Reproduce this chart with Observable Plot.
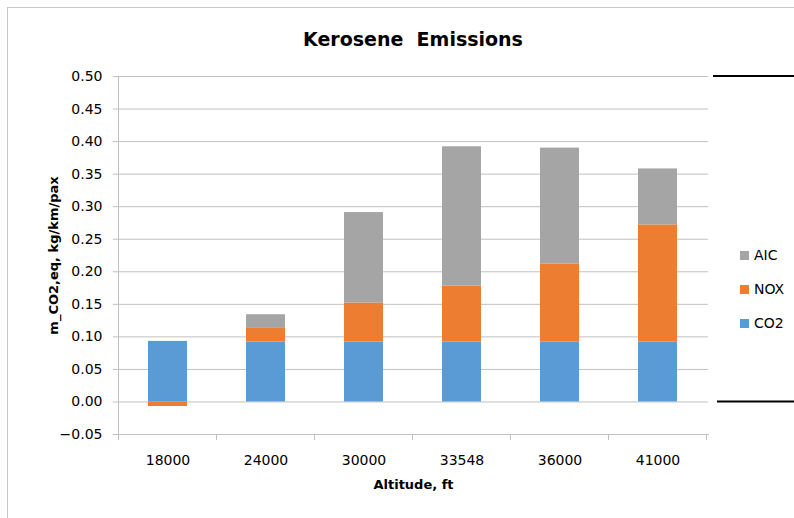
<!DOCTYPE html>
<html><head><meta charset="utf-8">
<script src="https://cdn.jsdelivr.net/npm/d3@7"></script>
<script src="https://cdn.jsdelivr.net/npm/@observablehq/plot@0.6"></script>
<style>
body{margin:0;background:#fff;}
#wrap{position:relative;width:794px;height:518px;overflow:hidden;font-family:"DejaVu Sans",sans-serif;background:#fff;}
#border{position:absolute;left:7px;top:7px;width:900px;height:600px;border:1px solid #c8c8c8;box-sizing:border-box;}
#chart{position:absolute;left:0;top:0;}
#title{position:absolute;left:118px;width:590px;top:28px;text-align:center;font-weight:bold;font-size:19px;color:#000;white-space:pre;}
.leg{position:absolute;left:740px;font-size:14px;color:#000;display:flex;align-items:center;height:16px;}
.leg span.sw{display:inline-block;width:9px;height:9px;margin-right:5px;}
svg text{font-family:"DejaVu Sans",sans-serif;}
svg g[aria-label="y-axis label"] text, svg g[aria-label="x-axis label"] text{font-weight:bold;font-size:13px;}
</style>
</head><body>
<div id="wrap"><div id="border"></div><div id="chart"></div><div id="title">Kerosene  Emissions</div></div>
<script>
const altitudes = ["18000","24000","30000","33548","36000","41000"];
const series = ["CO2","NOX","AIC"];
const co2 = [0.093,0.092,0.092,0.092,0.092,0.092];
const nox = [-0.007,0.021,0.060,0.086,0.120,0.180];
const aic = [0.000,0.021,0.139,0.214,0.178,0.086];
const colors = ["#5b9bd5","#ed7d31","#a5a5a5"];
const yTicks = [-0.05,0,0.05,0.10,0.15,0.20,0.25,0.30,0.35,0.40,0.45,0.50];
const legendOrder = ["AIC","NOX","CO2"];

const valuesBySeries = {CO2: co2, NOX: nox, AIC: aic};
const data = [];
series.forEach(s => altitudes.forEach((a,i) => data.push({alt:a, series:s, value:valuesBySeries[s][i]})));

const grid = "#c0c0c0";
const plot = Plot.plot({
  width: 794, height: 518,
  marginLeft: 118, marginRight: 86, marginTop: 76, marginBottom: 84,
  style: {fontSize: "14px", background: "transparent", color: "#000"},
  x: {domain: altitudes, paddingInner: 0.6, paddingOuter: 0.3, label: null},
  y: {domain: [-0.05, 0.5]},
  color: {domain: series, range: colors},
  marks: [
    Plot.gridY(yTicks, {stroke: grid, strokeOpacity: 1}),
    Plot.barY(data, Plot.stackY({x: "alt", y: "value", fill: "series", order: series})),
    Plot.axisY(yTicks, {tickFormat: d3.format(".2f"), tickSize: 5, tickPadding: 11, stroke: grid,
      label: "m_CO2,eq, kg/km/pax", labelAnchor: "center", labelOffset: 70, labelArrow: false}),
    Plot.axisX({tickSize: 0, tickPadding: 21, label: "Altitude, ft", labelAnchor: "center", labelOffset: 54, labelArrow: false}),
    Plot.frame({anchor: "left", stroke: grid, strokeOpacity: 1}),
    Plot.frame({anchor: "bottom", stroke: grid, strokeOpacity: 1})
  ]
});
document.getElementById("chart").appendChild(plot);

// boundary ticks on the category axis, and the dark rules at right
const xs = plot.scale("x"), ys = plot.scale("y");
const svg = d3.select(plot);
const bw = xs.bandwidth, step = xs.step;
const bounds = altitudes.map(a => xs.apply(a) + bw/2 - step/2);
bounds.push(xs.apply(altitudes[altitudes.length-1]) + bw/2 + step/2);
const yb = ys.apply(-0.05);
svg.append("g").selectAll("line").data(bounds).join("line")
  .attr("x1", d => d).attr("x2", d => d).attr("y1", yb).attr("y2", yb + 6)
  .attr("stroke", grid);
const right = 794 - 86;
svg.append("g").selectAll("line").data([0.5, 0]).join("line")
  .attr("x1", (d,i) => right + 5 + i*4).attr("x2", 794)
  .attr("y1", d => ys.apply(d)).attr("y2", d => ys.apply(d))
  .attr("stroke", "#000").attr("stroke-width", 2);

// legend
const wrap = document.getElementById("wrap");
legendOrder.forEach((s, i) => {
  const d = document.createElement("div");
  d.className = "leg";
  d.style.top = (247 + i*34) + "px";
  d.innerHTML = `<span class="sw" style="background:${colors[series.indexOf(s)]}"></span>${s}`;
  wrap.appendChild(d);
});
</script>
</body></html>
